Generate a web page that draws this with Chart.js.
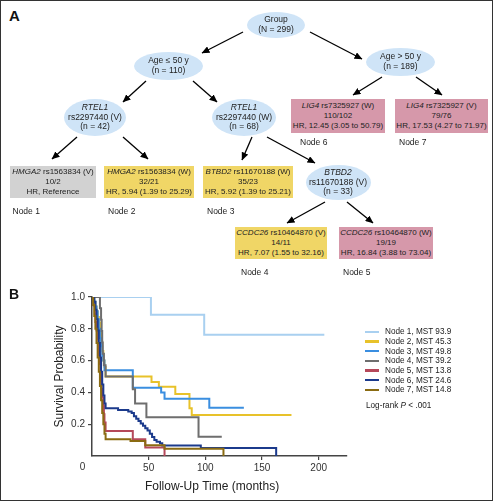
<!DOCTYPE html>
<html><head><meta charset="utf-8">
<script src="https://cdn.jsdelivr.net/npm/chart.js@4.4.1/dist/chart.umd.min.js"></script>
<style>
html,body{margin:0;padding:0;background:#fff;}
#wrap{position:relative;width:496px;height:503px;overflow:hidden;font-family:"Liberation Sans",Arial,Helvetica,sans-serif;color:#222;}
#frame{position:absolute;left:0;top:0;width:493px;height:501px;box-sizing:border-box;border:1.5px solid #333;}
.plabel{position:absolute;font-weight:bold;color:#111;line-height:1;}
.ell{position:absolute;border-radius:50%;background:#cfe4f7;display:flex;flex-direction:column;align-items:center;justify-content:center;font-size:8.5px;line-height:9.8px;text-align:center;white-space:nowrap;}
.box{position:absolute;display:flex;flex-direction:column;align-items:center;justify-content:center;font-size:8px;line-height:9.7px;text-align:center;white-space:nowrap;}
.grey{background:#d2d2d2}.yel{background:#f0d666}.pink{background:#d698aa}
.nl{position:absolute;font-size:8.5px;line-height:10px;white-space:nowrap;}
#arrows{position:absolute;left:0;top:0}
#chartBox{position:absolute;left:0;top:285px;width:496px;height:215px}
#legend{position:absolute;left:365px;top:327px;font-size:8.2px;color:#222}
.lrow{height:9.67px;display:flex;align-items:center;white-space:nowrap}
.lsw{width:14px;height:2.5px;margin-right:6px}
#logrank{position:absolute;left:366px;top:401px;font-size:8.2px;white-space:nowrap;color:#222}
</style>
</head><body>
<div id="wrap">
  <div id="chartBox"><canvas id="km" width="496" height="215"></canvas></div>

  <div class="plabel" style="left:9px;top:8px;font-size:15px">A</div>
  <div class="plabel" style="left:9px;top:287px;font-size:14px">B</div>

  <svg id="arrows" width="496" height="290">
    <defs><marker id="ah" markerWidth="8" markerHeight="7" refX="7.5" refY="3.5" orient="auto" markerUnits="userSpaceOnUse"><path d="M0,0 L8,3.5 L0,7 z" fill="#000"/></marker></defs>
    <g stroke="#000" stroke-width="1.3" marker-end="url(#ah)">
      <line x1="243" y1="32" x2="202" y2="53"/>
      <line x1="310" y1="32" x2="362" y2="59"/>
      <line x1="146" y1="81" x2="123" y2="102"/>
      <line x1="193" y1="81" x2="217" y2="102"/>
      <line x1="382" y1="77" x2="353" y2="95"/>
      <line x1="416" y1="77" x2="442" y2="95"/>
      <line x1="77" y1="137" x2="52" y2="159"/>
      <line x1="123" y1="137" x2="148" y2="159"/>
      <line x1="252" y1="137" x2="242" y2="160"/>
      <line x1="267" y1="137" x2="315" y2="163"/>
      <line x1="325" y1="202" x2="287" y2="223"/>
      <line x1="347" y1="202" x2="373" y2="223"/>
    </g>
  </svg>

  <div class="ell" style="left:247px;top:11.5px;width:58px;height:26px"><div>Group</div><div>(N = 299)</div></div>
  <div class="ell" style="left:134px;top:52px;width:69px;height:28px"><div>Age ≤ 50 y</div><div>(n = 110)</div></div>
  <div class="ell" style="left:366px;top:48px;width:69px;height:28px"><div>Age &gt; 50 y</div><div>(n = 189)</div></div>
  <div class="ell" style="left:64px;top:99px;width:62px;height:37px"><div><i>RTEL1</i></div><div>rs2297440 (V)</div><div>(n = 42)</div></div>
  <div class="ell" style="left:212px;top:99px;width:64px;height:37px"><div><i>RTEL1</i></div><div>rs2297440 (W)</div><div>(n = 68)</div></div>
  <div class="ell" style="left:305.5px;top:165px;width:65px;height:35px"><div><i>BTBD2</i></div><div>rs11670188 (V)</div><div>(n = 33)</div></div>

  <div class="box grey" style="left:10px;top:166px;width:86px;height:32px"><div><i>HMGA2</i> rs1563834 (V)</div><div>10/2</div><div>HR, Reference</div></div>
  <div class="box yel" style="left:104px;top:166px;width:90px;height:32px"><div><i>HMGA2</i> rs1563834 (W)</div><div>32/21</div><div>HR, 5.94 (1.39 to 25.29)</div></div>
  <div class="box yel" style="left:203px;top:166px;width:90px;height:32px"><div><i>BTBD2</i> rs11670188 (W)</div><div>35/23</div><div>HR, 5.92 (1.39 to 25.21)</div></div>
  <div class="box yel" style="left:235px;top:227px;width:92px;height:32px"><div><i>CCDC26</i> rs10464870 (V)</div><div>14/11</div><div>HR, 7.07 (1.55 to 32.16)</div></div>
  <div class="box pink" style="left:339px;top:227px;width:94px;height:32px"><div><i>CCDC26</i> rs10464870 (W)</div><div>19/19</div><div>HR, 16.84 (3.88 to 73.04)</div></div>
  <div class="box pink" style="left:291px;top:99px;width:94px;height:34px"><div><i>LIG4</i> rs7325927 (W)</div><div>110/102</div><div>HR, 12.45 (3.05 to 50.79)</div></div>
  <div class="box pink" style="left:395px;top:99px;width:93px;height:34px"><div><i>LIG4</i> rs7325927 (V)</div><div>79/76</div><div>HR, 17.53 (4.27 to 71.97)</div></div>

  <div class="nl" style="left:12.5px;top:205.5px">Node 1</div>
  <div class="nl" style="left:108px;top:206px">Node 2</div>
  <div class="nl" style="left:207px;top:206px">Node 3</div>
  <div class="nl" style="left:241px;top:267px">Node 4</div>
  <div class="nl" style="left:343px;top:267px">Node 5</div>
  <div class="nl" style="left:300px;top:137px">Node 6</div>
  <div class="nl" style="left:399px;top:137px">Node 7</div>

  <div id="legend"></div>
  <div id="logrank">Log-rank <i>P</i> &lt; .001</div>
  <div id="frame"></div>
</div>
<script>
// ---- Data ----
const seriesLabels = ['Node 1, MST 93.9','Node 2, MST 45.3','Node 3, MST 49.8','Node 4, MST 39.2','Node 5, MST 13.8','Node 6, MST 24.6','Node 7, MST 14.8'];

const node1Time = [0, 52, 99, 205];
const node1Surv = [1, 0.889, 0.762, 0.762];

const node2Time = [0, 2, 3, 4, 5, 6, 7, 8, 9, 10, 11, 12, 52.5, 59, 73.5, 86, 88, 176];
const node2Surv = [1, 0.97, 0.94, 0.91, 0.875, 0.84, 0.78, 0.72, 0.66, 0.6, 0.56, 0.5, 0.465, 0.436, 0.39, 0.30, 0.258, 0.258];

const node3Time = [0, 2, 3, 4, 5, 6, 7, 8, 9, 10, 11, 36, 61, 64, 103.5, 134];
const node3Surv = [1, 0.97, 0.94, 0.91, 0.86, 0.8, 0.74, 0.69, 0.63, 0.6, 0.54, 0.43, 0.40, 0.36, 0.304, 0.304];

const node4Time = [0, 7, 8, 8.5, 9, 9.5, 10.5, 12, 36, 38, 48, 94, 114.5];
const node4Surv = [1, 0.929, 0.857, 0.786, 0.714, 0.643, 0.571, 0.5, 0.42, 0.33, 0.243, 0.121, 0.121];

const node5Time = [0, 1.5, 2.5, 3, 4, 5, 5.5, 6, 7, 7.5, 8, 8.5, 9, 10, 10.5, 11, 12, 36, 47, 64];
const node5Surv = [1, 0.947, 0.895, 0.842, 0.789, 0.737, 0.684, 0.632, 0.579, 0.526, 0.474, 0.421, 0.368, 0.316, 0.263, 0.211, 0.158, 0.105, 0.053, 0];

const node6Time = [0, 2, 3, 4, 5, 6, 7, 8, 9, 10, 11, 12, 23, 32, 35, 37, 39, 41, 43, 45, 47, 49, 51, 53, 55, 57, 60, 62, 96, 162.5];
const node6Surv = [1, 0.97, 0.92, 0.86, 0.79, 0.71, 0.62, 0.53, 0.45, 0.38, 0.33, 0.30, 0.29, 0.28, 0.27, 0.25, 0.235, 0.22, 0.205, 0.19, 0.175, 0.16, 0.14, 0.12, 0.1, 0.09, 0.08, 0.066, 0.05, 0];

const node7Time = [0, 1, 2, 3, 4, 5, 6, 7, 8, 9, 10, 11, 12, 34, 47, 64, 116];
const node7Surv = [1, 0.95, 0.88, 0.8, 0.71, 0.62, 0.53, 0.44, 0.35, 0.27, 0.2, 0.14, 0.105, 0.094, 0.068, 0.046, 0];

const xTickValues = [0, 50, 100, 150, 200];
const yTickValues = [0.2, 0.4, 0.6, 0.8, 1.0];

// ---- Styles ----
const seriesColors = ['#a9d0f0','#e8c22a','#3a8ee0','#6e6e6e','#b5485a','#1b3a8c','#8a6b12'];
const times = [node1Time,node2Time,node3Time,node4Time,node5Time,node6Time,node7Time];
const survs = [node1Surv,node2Surv,node3Surv,node4Surv,node5Surv,node6Surv,node7Surv];

const datasets = seriesLabels.map((lab, i) => ({
  label: lab,
  data: times[i].map((t, k) => ({x: t, y: survs[i][k]})),
  borderColor: seriesColors[i],
  backgroundColor: seriesColors[i],
  borderWidth: 2,
  pointRadius: 0,
  fill: false,
  stepped: 'before',
  order: seriesLabels.length - 1 - i
}));

// HTML legend from the series arrays
const lg = document.getElementById('legend');
seriesLabels.forEach((lab, i) => {
  const r = document.createElement('div'); r.className = 'lrow';
  const s = document.createElement('div'); s.className = 'lsw'; s.style.background = seriesColors[i];
  const t = document.createElement('span'); t.textContent = lab;
  r.appendChild(s); r.appendChild(t); lg.appendChild(r);
});

const axisColor = '#444';
const extras = {
  id: 'extras',
  afterDraw(chart) {
    const ctx = chart.ctx, xs = chart.scales.x, ca = chart.chartArea;
    ctx.save();
    ctx.fillStyle = '#333';
    ctx.font = '10px "Liberation Sans", Arial, sans-serif';
    ctx.textAlign = 'center'; ctx.textBaseline = 'middle';
    ctx.fillText('0', xs.getPixelForValue(0) - 9.5, xs.top + 11);
    ctx.fillStyle = '#222';
    ctx.font = '12px "Liberation Sans", Arial, sans-serif';
    ctx.fillText('Follow-Up Time (months)', (ca.left + ca.right) / 2 - 7.5, xs.top + 31);
    ctx.restore();
  }
};

new Chart(document.getElementById('km'), {
  type: 'line',
  data: { datasets },
  plugins: [extras],
  options: {
    responsive: false,
    animation: false,
    devicePixelRatio: 1,
    layout: { padding: { left: 47, right: 149, top: 12, bottom: 0 } },
    plugins: { legend: { display: false }, tooltip: { enabled: false } },
    scales: {
      x: {
        type: 'linear', min: 0, max: 225,
        afterBuildTicks: s => { s.ticks = xTickValues.map(v => ({value: v})); },
        afterFit: s => { s.height = 44; },
        ticks: { padding: 2, color: '#333', font: { size: 10, family: '"Liberation Sans", Arial, sans-serif' },
                 callback: v => (v === 0 ? '' : String(v)) },
        grid: { drawOnChartArea: false, drawTicks: true, tickLength: 4, lineWidth: 1.2,
                color: c => (c.tick && c.tick.value === 0 ? 'rgba(0,0,0,0)' : axisColor) },
        border: { display: true, color: axisColor, width: 1.5 },
        title: { display: false }
      },
      y: {
        type: 'linear', min: 0, max: 1,
        afterBuildTicks: s => { s.ticks = [0].concat(yTickValues).map(v => ({value: v})); },
        afterFit: s => { s.width = 45; },
        ticks: { padding: 3, color: '#333', font: { size: 10, family: '"Liberation Sans", Arial, sans-serif' },
                 callback: v => (v === 0 ? '' : Number(v).toFixed(1)) },
        grid: { drawOnChartArea: false, drawTicks: true, tickLength: 4, lineWidth: 1.2,
                color: c => (c.tick && c.tick.value === 0 ? 'rgba(0,0,0,0)' : axisColor) },
        border: { display: true, color: axisColor, width: 1.5 },
        title: { display: true, text: 'Survival Probability', color: '#222',
                 font: { size: 12, family: '"Liberation Sans", Arial, sans-serif' }, padding: { top: 5, bottom: 0 } }
      }
    }
  }
});
</script>
</body></html>
